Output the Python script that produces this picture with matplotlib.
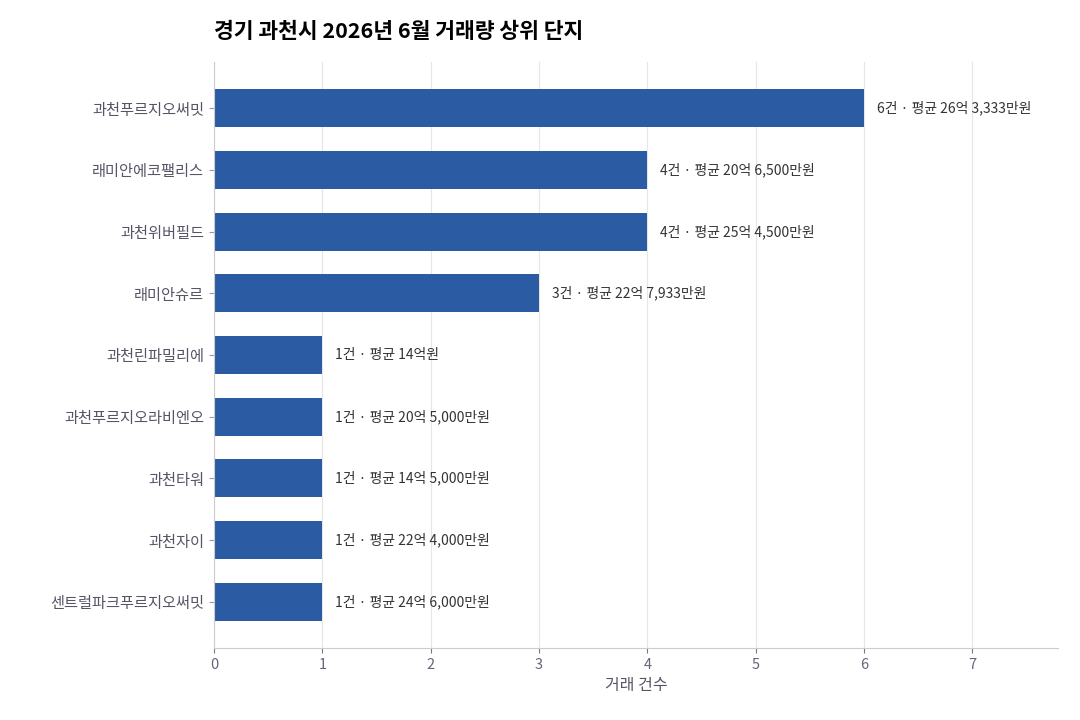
import matplotlib
matplotlib.use("Agg")
import matplotlib.pyplot as plt

plt.rcParams['font.family'] = ['Noto Sans CJK KR', 'DejaVu Sans']

names = ["과천푸르지오써밋", "래미안에코팰리스", "과천위버필드", "래미안슈르", "과천린파밀리에",
         "과천푸르지오라비엔오", "과천타워", "과천자이", "센트럴파크푸르지오써밋"]
counts = [6, 4, 4, 3, 1, 1, 1, 1, 1]
labels = ["6건 · 평균 26억 3,333만원", "4건 · 평균 20억 6,500만원", "4건 · 평균 25억 4,500만원",
          "3건 · 평균 22억 7,933만원", "1건 · 평균 14억원", "1건 · 평균 20억 5,000만원",
          "1건 · 평균 14억 5,000만원", "1건 · 평균 22억 4,000만원", "1건 · 평균 24억 6,000만원"]

fig = plt.figure(figsize=(10.8, 7.2), dpi=100)
ax = fig.add_axes([214/1080, 1-648/720, (1058-214)/1080, (648-62)/720])
y = list(range(len(names)))[::-1]
ax.barh(y, counts, height=0.62, color="#2b5ca3", zorder=2)
for yi, c, l in zip(y, counts, labels):
    ax.text(c + 0.12, yi, l, va="center", ha="left", fontsize=10, color="#333333")
ax.set_yticks(y)
ax.set_yticklabels(names, fontsize=11, color="#555566")
ax.set_xlim(0, 7.79)
ax.set_ylim(-0.75, 8.75)
ax.set_xticks(range(8))
ax.tick_params(axis='x', colors="#777788", labelsize=10.5)
ax.tick_params(axis='y', colors="#999999")
for t in ax.get_xticklabels():
    t.set_color("#666677")
for t in ax.get_yticklabels():
    t.set_color("#555566")
ax.grid(axis='x', color="#e6e6e6", zorder=0)
ax.set_axisbelow(True)
for s in ["top", "right"]:
    ax.spines[s].set_visible(False)
for s in ["left", "bottom"]:
    ax.spines[s].set_color("#cccccc")
ax.set_xlabel("거래 건수", fontsize=11.5, color="#555566")
fig.text(214/1080, 1-32/720, "경기 과천시 2026년 6월 거래량 상위 단지", fontsize=15.5,
         fontweight="bold", va="center", ha="left")
fig.savefig("out.png", dpi=100)
